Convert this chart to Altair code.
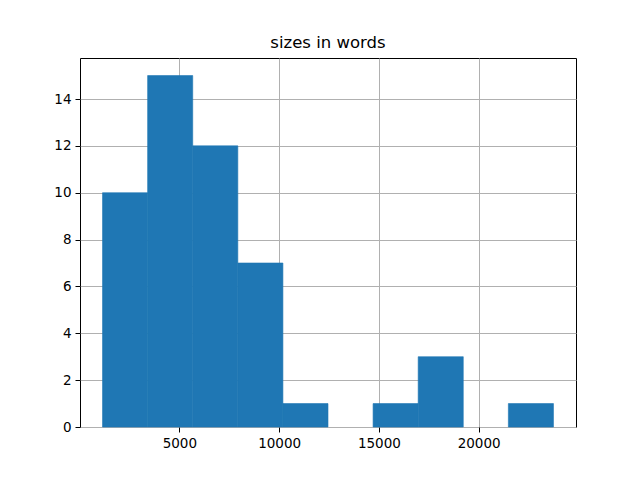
import altair as alt
import pandas as pd

bin_edges = [1150, 3410, 5670, 7930, 10190, 12450, 14710, 16970, 19230, 21490, 23750]
counts = [10, 15, 12, 7, 1, 0, 1, 3, 0, 1]
x_ticks = [5000, 10000, 15000, 20000]
y_ticks = [0, 2, 4, 6, 8, 10, 12, 14]

df = pd.DataFrame({"start": bin_edges[:-1], "end": bin_edges[1:], "count": counts})

span = bin_edges[-1] - bin_edges[0]
x_dom = [bin_edges[0] - 0.05 * span, bin_edges[-1] + 0.05 * span]
y_dom = [0, max(counts) * 1.05]

FONT = "DejaVu Sans"

chart = alt.Chart(df).transform_filter(
    alt.datum["count"] > 0
).mark_rect(color="#1f77b4", stroke="#1f77b4", strokeWidth=0.6).encode(
    x=alt.X("start:Q", title=None,
            scale=alt.Scale(domain=x_dom, nice=False, zero=False),
            axis=alt.Axis(values=x_ticks, format="d")),
    x2="end:Q",
    y=alt.Y("count:Q", title=None,
            scale=alt.Scale(domain=y_dom, nice=False),
            axis=alt.Axis(values=y_ticks, format="d")),
    y2=alt.Y2(datum=0),
).properties(
    width=496, height=369,
    title=alt.TitleParams("sizes in words", font=FONT, fontSize=16.5,
                          fontWeight="normal", color="black", offset=7),
    autosize=alt.AutoSizeParams(type="none"),
    padding={"left": 72, "top": 50, "right": 56, "bottom": 45},
).configure_view(
    stroke="black", strokeWidth=1
).configure_axis(
    domain=False, grid=True, gridColor="#b0b0b0", gridWidth=1,
    tickColor="black", tickSize=5, tickWidth=1,
    labelFont=FONT, labelFontSize=13.5, labelColor="black", labelPadding=4,
    zindex=1,
)

chart.save("out.html", embed_options={"renderer": "svg", "actions": False})
